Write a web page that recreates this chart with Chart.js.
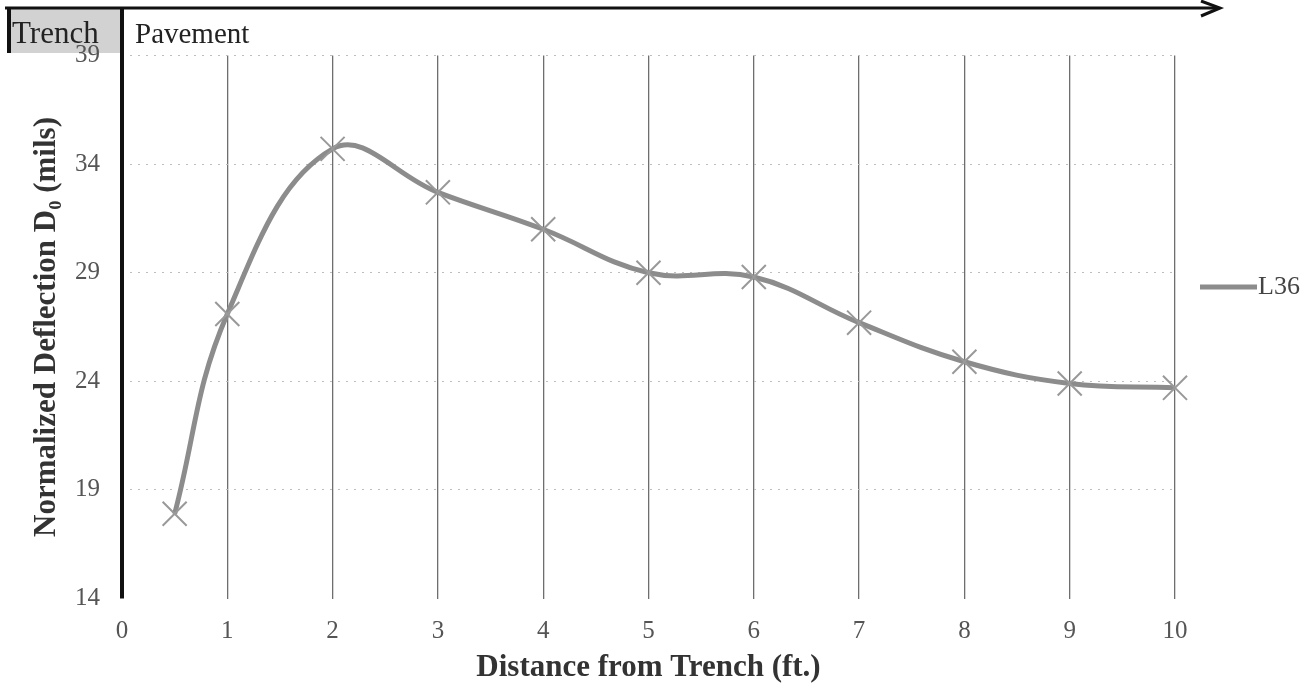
<!DOCTYPE html>
<html>
<head>
<meta charset="utf-8">
<script src="https://cdn.jsdelivr.net/npm/chart.js@4/dist/chart.umd.min.js"></script>
<style>
  html, body { margin: 0; padding: 0; background: #fff; }
  #wrap { width: 1313px; height: 694px; }
</style>
</head>
<body>
<div id="wrap"><canvas id="deflChart" width="1313" height="694"></canvas></div>
<script>
var distances = [0.5, 1, 2, 3, 4, 5, 6, 7, 8, 9, 10];
var deflection = [17.9, 27.1, 34.7, 32.7, 31.0, 29.0, 28.8, 26.7, 24.9, 23.9, 23.7];
var yTicks = [14, 19, 24, 29, 34, 39];
var xTicks = [0, 1, 2, 3, 4, 5, 6, 7, 8, 9, 10];
var seriesName = "L36";

var serif = "'Liberation Serif', 'Times New Roman', serif";
var lineGray = "#8c8c8c";

// trench box goes under the tick labels
var header = {
    id: "header",
    beforeDraw: function (chart) {
        var ctx = chart.ctx;
        var x0 = chart.scales.x.getPixelForValue(0);
        ctx.save();
        ctx.fillStyle = "#d2d2d2";
        ctx.fillRect(8, 8, x0 - 8, 45);
        ctx.fillStyle = "#222";
        ctx.font = "31px " + serif;
        ctx.textBaseline = "alphabetic";
        ctx.fillText("Trench", 12, 43);
        ctx.font = "29px " + serif;
        ctx.fillText("Pavement", 135, 43);
        ctx.restore();
    }
};

// thick axis, arrow and legend
var decor = {
    id: "decor",
    afterDraw: function (chart) {
        var ctx = chart.ctx;
        var x0 = chart.scales.x.getPixelForValue(0);
        var yBot = chart.scales.y.getPixelForValue(14);
        ctx.save();
        ctx.fillStyle = "#111";
        ctx.fillRect(7, 8, 4, 45);
        ctx.fillRect(x0 - 2, 8, 4, yBot - 8);
        ctx.strokeStyle = "#111";
        ctx.lineWidth = 3;
        ctx.beginPath();
        ctx.moveTo(5, 8);
        ctx.lineTo(1219, 8);
        ctx.stroke();
        ctx.beginPath();
        ctx.moveTo(1201, 1);
        ctx.lineTo(1220, 8);
        ctx.lineTo(1201, 16);
        ctx.stroke();
        // legend
        var ds = chart.data.datasets[0];
        var ly = 287;
        ctx.strokeStyle = ds.borderColor;
        ctx.lineWidth = 5;
        ctx.beginPath();
        ctx.moveTo(1200, ly);
        ctx.lineTo(1257, ly);
        ctx.stroke();
        ctx.fillStyle = "#444";
        ctx.font = "26px " + serif;
        ctx.textBaseline = "middle";
        ctx.fillText(ds.label, 1258, ly);
        ctx.restore();
    }
};

new Chart("deflChart", {
    type: "line",
    data: {
        datasets: [{
            label: seriesName,
            data: distances.map(function (d, i) { return { x: d, y: deflection[i] }; }),
            borderColor: lineGray,
            borderWidth: 5,
            tension: 0.4,
            pointStyle: "crossRot",
            pointRadius: 17,
            pointBorderWidth: 2,
            pointBorderColor: "#999",
            clip: false,
            fill: false
        }]
    },
    options: {
        responsive: false,
        animation: false,
        layout: {
            padding: { top: 55.5, right: 138, left: 0, bottom: 0 }
        },
        plugins: {
            legend: { display: false },
            tooltip: { enabled: false }
        },
        scales: {
            x: {
                type: "linear",
                min: 0,
                max: 10,
                afterFit: function (s) { s.height = 95.5; },
                afterBuildTicks: function (s) {
                    s.ticks = xTicks.map(function (v) { return { value: v }; });
                },
                border: { display: false },
                grid: {
                    drawTicks: false,
                    lineWidth: 1.3,
                    color: function (c) { return c.tick && c.tick.value === 0 ? "rgba(0,0,0,0)" : "#6e6e6e"; }
                },
                ticks: {
                    padding: 18,
                    color: "#555",
                    font: { family: serif, size: 25 }
                },
                title: {
                    display: true,
                    text: "Distance from Trench (ft.)",
                    color: "#333",
                    font: { family: serif, size: 31, weight: "bold" },
                    padding: { bottom: 7 }
                }
            },
            y: {
                min: 14,
                max: 39,
                afterFit: function (s) { s.width = 122; },
                afterBuildTicks: function (s) {
                    s.ticks = yTicks.map(function (v) { return { value: v }; });
                },
                border: { display: false, dash: [2, 6] },
                grid: {
                    drawTicks: false,
                    lineWidth: 1,
                    borderDash: [2, 6],
                    color: function (c) { return c.tick && c.tick.value === 14 ? "rgba(0,0,0,0)" : "#bdbdbd"; }
                },
                ticks: {
                    padding: 22,
                    color: "#555",
                    font: { family: serif, size: 25 }
                },
                title: {
                    display: true,
                    text: "Normalized Deflection D\u2080 (mils)",
                    color: "#333",
                    font: { family: serif, size: 31, weight: "bold" },
                    padding: { top: 28 }
                }
            }
        }
    },
    plugins: [header, decor]
});
</script>
</body>
</html>
